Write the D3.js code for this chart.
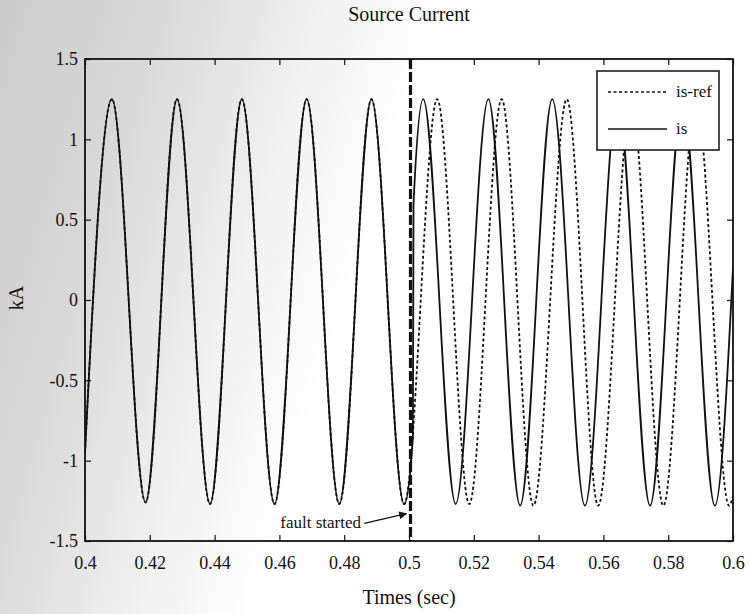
<!DOCTYPE html>
<html>
<head>
<meta charset="utf-8">
<script src="https://cdnjs.cloudflare.com/ajax/libs/d3/7.8.5/d3.min.js"></script>
<style>
  body { margin:0; background:#fff; }
  .chart text { font-family:"Liberation Serif", "DejaVu Serif", serif; fill:#111; }
</style>
</head>
<body>
<div class="chart"></div>
<script>
var values = { width:750, height:614, left:85, top:59, plotW:648, plotH:482 };

// tick labels
var xTicks = [0.4, 0.42, 0.44, 0.46, 0.48, 0.5, 0.52, 0.54, 0.56, 0.58, 0.6];
var yTicks = [-1.5, -1, -0.5, 0, 0.5, 1, 1.5];

// is-ref: [time (sec), current (kA)] read at the ends, peaks and troughs
var isRef = [
  [0.4000, -0.95], [0.4083, 1.25], [0.4187, -1.26], [0.4284, 1.25], [0.4386, -1.27],
  [0.4484, 1.25], [0.4585, -1.27], [0.4684, 1.25], [0.4785, -1.27], [0.4884, 1.25],
  [0.4985, -1.27], [0.5087, 1.25], [0.5186, -1.27], [0.5286, 1.25], [0.5384, -1.28],
  [0.5487, 1.25], [0.5584, -1.28], [0.5686, 1.25], [0.5785, -1.28], [0.5886, 1.25],
  [0.5988, -1.28], [0.6000, -1.22]
];

// is: same as is-ref until the fault, then jumps ahead in phase
var isCur = [
  [0.4000, -0.95], [0.4083, 1.25], [0.4187, -1.26], [0.4284, 1.25], [0.4386, -1.27],
  [0.4484, 1.25], [0.4585, -1.27], [0.4684, 1.25], [0.4785, -1.27], [0.4884, 1.25],
  [0.4985, -1.27], [0.5012, -0.85], [0.5014, 0.60], [0.5044, 1.25], [0.5144, -1.27],
  [0.5245, 1.25], [0.5343, -1.28], [0.5442, 1.25], [0.5543, -1.28], [0.5644, 1.25],
  [0.5744, -1.28], [0.5844, 1.25], [0.5944, -1.28], [0.6000, 0.20]
];

var faultTime = 0.5;
// annotation: label end and arrow, in data units
var faultLabel = { t:0.4852, v:-1.42, text:"fault started" };
var faultArrow = [[0.4862, -1.39], [0.4992, -1.33]];

var legendItems = [
  { name:"is-ref", dash:"3,2.5" },
  { name:"is", dash:null }
];

var x = d3.scaleLinear().domain([0.4, 0.6]).range([0, values.plotW]);
var y = d3.scaleLinear().domain([-1.5, 1.5]).range([values.plotH, 0]);

var root = d3.select('.chart')
    .append('svg')
    .attr("width", values.width)
    .attr("height", values.height);

// scanned paper shading on the left
var defs = root.append("defs");
var grad = defs.append("linearGradient")
    .attr("id", "paper")
    .attr("x1", 0).attr("y1", 0).attr("x2", 1).attr("y2", 0.25);
grad.append("stop").attr("offset", "0%").attr("stop-color", "#cbcbcb");
grad.append("stop").attr("offset", "20%").attr("stop-color", "#d8d8d8");
grad.append("stop").attr("offset", "40%").attr("stop-color", "#f0f0f0");
grad.append("stop").attr("offset", "55%").attr("stop-color", "#ffffff");

defs.append("clipPath").attr("id", "plotclip")
  .append("rect").attr("width", values.plotW).attr("height", values.plotH);

defs.append("marker")
    .attr("id", "arrow")
    .attr("viewBox", "0 0 10 10")
    .attr("refX", 9).attr("refY", 5)
    .attr("markerWidth", 11).attr("markerHeight", 8)
    .attr("markerUnits", "userSpaceOnUse")
    .attr("orient", "auto")
  .append("path")
    .attr("d", "M0,0 L10,5 L0,10 Z")
    .attr("fill", "#111");

root.append("rect")
    .attr("width", values.width)
    .attr("height", values.height)
    .attr("fill", "url(#paper)");

var svg = root.append("g")
    .attr("transform", "translate(" + values.left + "," + values.top + ")");

// title and axis labels
svg.append("text")
    .attr("x", values.plotW / 2)
    .attr("y", -38)
    .style("text-anchor", "middle")
    .style("font-size", "20px")
    .text("Source Current");

svg.append("text")
    .attr("x", values.plotW / 2)
    .attr("y", values.plotH + 63)
    .style("text-anchor", "middle")
    .style("font-size", "20px")
    .text("Times (sec)");

svg.append("text")
    .attr("transform", "rotate(-90)")
    .attr("x", -values.plotH / 2 + 2)
    .attr("y", -62)
    .style("text-anchor", "middle")
    .style("font-size", "20px")
    .text("kA");

// axes with inward ticks on all four sides
var fmt = function (d) { return String(d); };
svg.append("g")
    .attr("class", "x axis")
    .attr("transform", "translate(0," + values.plotH + ")")
    .call(d3.axisBottom(x).tickValues(xTicks).tickSize(-6).tickPadding(15).tickFormat(fmt));
svg.append("g")
    .attr("class", "x axis top")
    .call(d3.axisTop(x).tickValues(xTicks).tickSize(-6).tickFormat(""));
svg.append("g")
    .attr("class", "y axis")
    .call(d3.axisLeft(y).tickValues(yTicks).tickSize(-6).tickPadding(7).tickFormat(fmt));
svg.append("g")
    .attr("class", "y axis right")
    .attr("transform", "translate(" + values.plotW + ",0)")
    .call(d3.axisRight(y).tickValues(yTicks).tickSize(-6).tickFormat(""));

svg.selectAll(".axis")
    .attr("font-family", "Liberation Serif")
    .attr("font-size", 18);
svg.selectAll(".axis .domain").remove();
svg.selectAll(".axis line").attr("stroke", "#111").attr("stroke-width", 1.2);
svg.selectAll(".axis text")
    .style("font-size", "18px")
    .attr("fill", "#111");

// curves
var line = d3.line()
    .x(function (d) { return x(d[0]); })
    .y(function (d) { return y(d[1]); })
    .curve(d3.curveMonotoneX);

var curves = svg.append("g").attr("clip-path", "url(#plotclip)");

curves.append("path")
    .datum(isRef)
    .attr("fill", "none")
    .attr("stroke", "#111")
    .attr("stroke-width", 1.8)
    .attr("stroke-dasharray", "3,2.5")
    .attr("d", line);

curves.append("path")
    .datum(isCur)
    .attr("fill", "none")
    .attr("stroke", "#111")
    .attr("stroke-width", 1.8)
    .attr("d", line);

// fault marker
curves.append("line")
    .attr("x1", x(faultTime) + 1.5).attr("x2", x(faultTime) + 1.5)
    .attr("y1", 0).attr("y2", values.plotH)
    .attr("stroke", "#111")
    .attr("stroke-width", 3.2)
    .attr("stroke-dasharray", "10,3");

svg.append("text")
    .attr("x", x(faultLabel.t))
    .attr("y", y(faultLabel.v))
    .style("text-anchor", "end")
    .style("font-size", "17px")
    .text(faultLabel.text);

svg.append("line")
    .attr("x1", x(faultArrow[0][0])).attr("y1", y(faultArrow[0][1]))
    .attr("x2", x(faultArrow[1][0])).attr("y2", y(faultArrow[1][1]))
    .attr("stroke", "#111")
    .attr("stroke-width", 1.3)
    .attr("marker-end", "url(#arrow)");

// plot box
svg.append("rect")
    .attr("width", values.plotW)
    .attr("height", values.plotH)
    .attr("fill", "none")
    .attr("stroke", "#111")
    .attr("stroke-width", 1.8);

// legend
var legend = svg.append("g")
    .attr("transform", "translate(" + (values.plotW - 136) + ",12)");

legend.append("rect")
    .attr("width", 122)
    .attr("height", 79)
    .attr("fill", "#fff")
    .attr("stroke", "#111")
    .attr("stroke-width", 1.5);

var entry = legend.selectAll(".entry")
    .data(legendItems)
    .enter()
    .append("g")
    .attr("class", "entry")
    .attr("transform", function (d, i) { return "translate(0," + (21 + i * 37) + ")"; });

entry.append("line")
    .attr("x1", 11).attr("x2", 70)
    .attr("stroke", "#111")
    .attr("stroke-width", 1.3)
    .attr("stroke-dasharray", function (d) { return d.dash; });

entry.append("text")
    .attr("x", 79)
    .attr("dy", "0.32em")
    .style("font-size", "17px")
    .text(function (d) { return d.name; });
</script>
</body>
</html>
